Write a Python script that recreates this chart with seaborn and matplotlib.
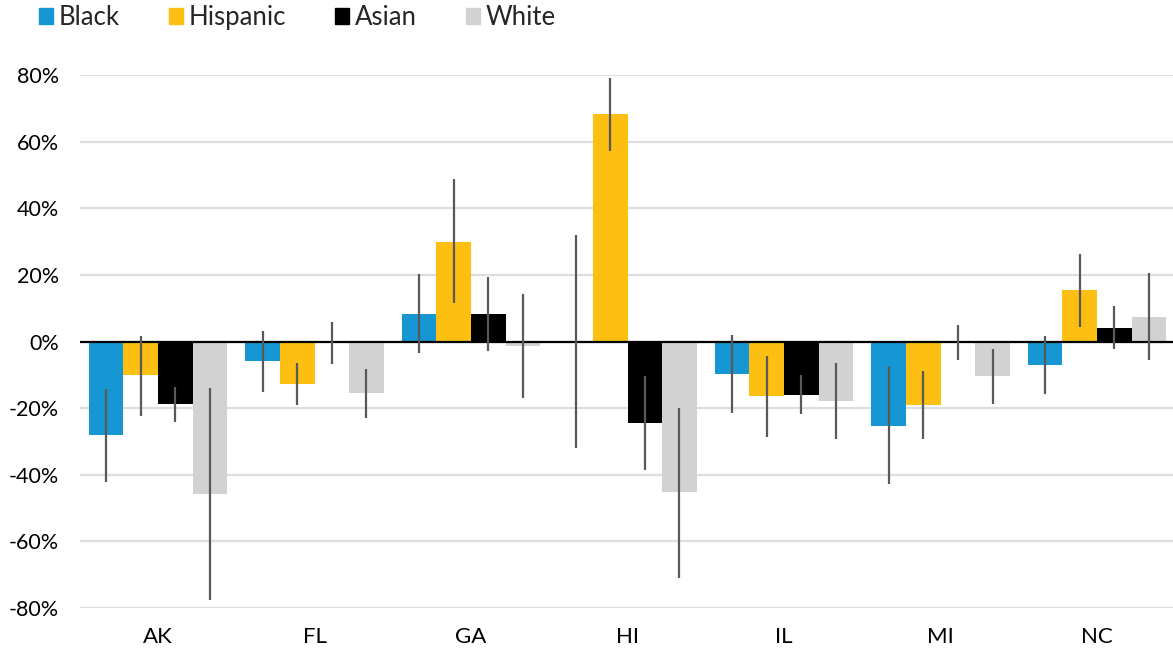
import numpy as np
import matplotlib
matplotlib.use('Agg')
import matplotlib.pyplot as plt
import matplotlib.patches as mpatches
import pandas as pd
import seaborn as sns

# data (percent change)
states = ['AK', 'FL', 'GA', 'HI', 'IL', 'MI', 'NC']
groups = ['Black', 'Hispanic', 'Asian', 'White']

black = [-28.2, -5.9, 8.4, 0.0, -9.8, -25.4, -7.0]
hispanic = [-10.2, -12.8, 30.0, 68.2, -16.3, -19.0, 15.4]
asian = [-18.9, -0.5, 8.4, -24.4, -16.0, 0.0, 4.2]
white = [-45.7, -15.6, -1.3, -45.3, -17.9, -10.4, 7.5]

# confidence interval ends
black_lo = [-42.3, -15.1, -3.5, -31.9, -21.6, -42.9, -15.9]
black_hi = [-14.2, 3.2, 20.4, 32.0, 2.1, -7.4, 1.8]
hispanic_lo = [-22.3, -19.2, 11.5, 57.2, -28.6, -29.2, 4.5]
hispanic_hi = [1.7, -6.4, 48.7, 79.1, -4.4, -9.0, 26.4]
asian_lo = [-24.2, -6.9, -2.9, -38.6, -21.9, -5.4, -2.2]
asian_hi = [-13.6, 5.8, 19.5, -10.4, -10.2, 4.9, 10.7]
white_lo = [-77.7, -23.1, -16.9, -70.9, -29.4, -18.7, -5.4]
white_hi = [-14.0, -8.4, 14.2, -20.0, -6.4, -2.1, 20.6]

colors = ['#1696d2', '#fdbf11', '#000000', '#d2d2d2']

values = [black, hispanic, asian, white]
lows = [black_lo, hispanic_lo, asian_lo, white_lo]
highs = [black_hi, hispanic_hi, asian_hi, white_hi]

# long form table for seaborn
rows = []
for g, vals in zip(groups, values):
    for s, v in zip(states, vals):
        rows.append({'State': s, 'Group': g, 'Change': v})
df = pd.DataFrame(rows)

sns.set_style('white')
plt.rcParams['font.family'] = ['Lato', 'DejaVu Sans']

fig = plt.figure(figsize=(11.73, 6.53), dpi=100)
ax = fig.add_axes([0.068, 0.069, 0.934, 0.816])

sns.barplot(data=df, x='State', y='Change', hue='Group', order=states,
            hue_order=groups, palette=colors, width=0.885, errorbar=None,
            saturation=1, linewidth=0, legend=False, ax=ax, zorder=2)

# error bars, placed at the centre of each bar
for cont, lo, hi in zip(ax.containers, lows, highs):
    xs = [p.get_x() + p.get_width() / 2 for p in cont.patches]
    ax.vlines(xs, lo, hi, color='#595959', lw=1.6, zorder=4)

ax.axhline(0, color='black', lw=1.6, zorder=3)

ax.set_ylim(-80, 80)
ax.set_xlim(-0.5, 6.5)
ax.set_yticks(np.arange(-80, 81, 20))
ax.set_yticklabels([f'{t}%' for t in range(-80, 81, 20)])
ax.yaxis.grid(True, color='#dedede', lw=1.6, zorder=0)
ax.set_axisbelow(True)
ax.tick_params(axis='y', length=0, labelsize=15.5, colors='black', pad=15)
ax.tick_params(axis='x', length=0, labelsize=16, colors='black', pad=14)
ax.set_xlabel('')
ax.set_ylabel('')
for sp in ax.spines.values():
    sp.set_visible(False)

handles = [mpatches.Patch(color=c, label=g) for c, g in zip(colors, groups)]
fig.legend(handles=handles, loc='upper left', bbox_to_anchor=(0.033, 0.992),
           ncol=4, frameon=False, fontsize=18.5, borderpad=0,
           borderaxespad=0, handlelength=0.55, handleheight=0.55,
           handletextpad=0.23, columnspacing=1.9)

plt.savefig('out.png', dpi=100)
